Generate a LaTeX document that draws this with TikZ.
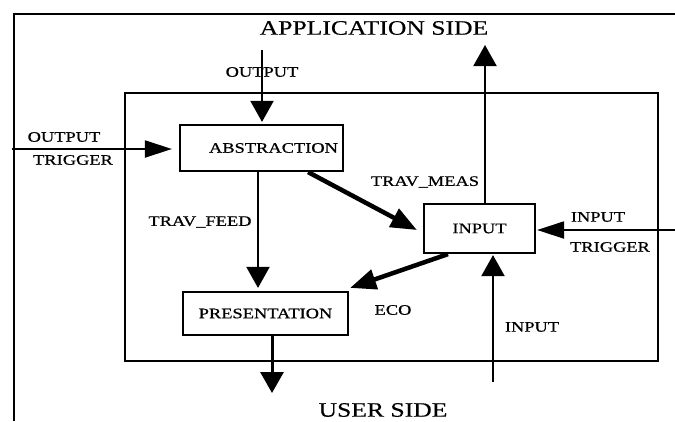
\documentclass[tikz,border=0pt]{standalone}
\usepackage{fontspec}
\setmainfont{Liberation Serif}
\newfontfamily\labfont[FakeStretch=1.27,FakeBold=0.6]{Liberation Serif}
\newfontfamily\bigfont[FakeStretch=1.25,FakeBold=0.3]{Liberation Serif}
\usetikzlibrary{arrows.meta}
\tikzset{
  lab/.style={font=\labfont\fontsize{14.5}{16}\selectfont, inner sep=0pt},
  big/.style={font=\bigfont\fontsize{20.5}{22}\selectfont, inner sep=0pt},
  blk/.style={draw, line width=2.2pt, inner sep=0pt, font=\labfont\fontsize{14.5}{16}\selectfont},
  varr/.style={line width=2pt, -{Triangle[width=23pt,length=21pt]}},
  harr/.style={line width=2pt, -{Triangle[width=17pt,length=27pt]}},
  darr/.style={line width=4.5pt, -{Triangle[width=20pt,length=26pt]}},
}
\begin{document}
\begin{tikzpicture}[x=1pt,y=-1pt]
\useasboundingbox (0,0) rectangle (675,421);
\fill[white] (0,0) rectangle (675,421);
% outer frame
\draw[line width=1.3pt] (675,14) -- (14,14) -- (14,421);
% inner box
\draw[line width=2.5pt] (125,93) rectangle (658,361);
% blocks
\node[blk, minimum width=163pt, minimum height=46pt] (abs) at (261.5,148) {\hspace*{24pt}ABSTRACTION};
\node[blk, minimum width=165pt, minimum height=43pt] (pres) at (265.5,313.5) {PRESENTATION};
\node[blk, minimum width=111pt, minimum height=49pt] (inp) at (479.5,228.5) {INPUT};
% titles
\node[big] (app) at (374,28) {APPLICATION SIDE};
\node[big] (user) at (383,410) {USER SIDE};
% labels
\node[lab] (lout) at (262,72) {OUTPUT};
\node[lab] (lot1) at (64,137) {OUTPUT};
\node[lab] (lot2) at (73,160) {TRIGGER};
\node[lab] (lfeed) at (200,222) {TRAV\_FEED};
\node[lab] (lmeas) at (425,182) {TRAV\_MEAS};
\node[lab] (lit1) at (598,217) {INPUT};
\node[lab] (lit2) at (610,247) {TRIGGER};
\node[lab] (leco) at (393,310) {ECO};
\node[lab] (linp) at (532,327) {INPUT};
% free ends
\coordinate (outTop) at (262,50);
\coordinate (otL) at (12,149);
\coordinate (appTop) at (485,45);
\coordinate (inBot) at (493,382);
\coordinate (itR) at (675,230);
\coordinate (presDown) at (272,393);
% connectors
\draw[varr] (outTop) -- ([yshift=2pt]outTop |- abs.north);
\draw[harr] (otL) -- ([xshift=-7pt]otL -| abs.west);
\draw[varr] ([xshift=-3.5pt]abs.south) -- ([xshift=-7.5pt,yshift=3pt]pres.north);
\draw[darr] ([xshift=-36pt]abs.south east) -- ([xshift=-6pt,yshift=-1.5pt]inp.west);
\draw[darr] ([xshift=-31.5pt]inp.south) -- ([xshift=1pt,yshift=3pt]pres.north east);
\draw[varr] ([xshift=5.5pt]inp.north) -- (appTop);
\draw[varr] (inBot) -- ([yshift=-1pt]inBot |- inp.south);
\draw[harr] (itR) -- ([xshift=1pt]itR -| inp.east);
\draw[varr, line width=3pt] ([xshift=6.5pt]pres.south) -- (presDown);
\end{tikzpicture}
\end{document}
